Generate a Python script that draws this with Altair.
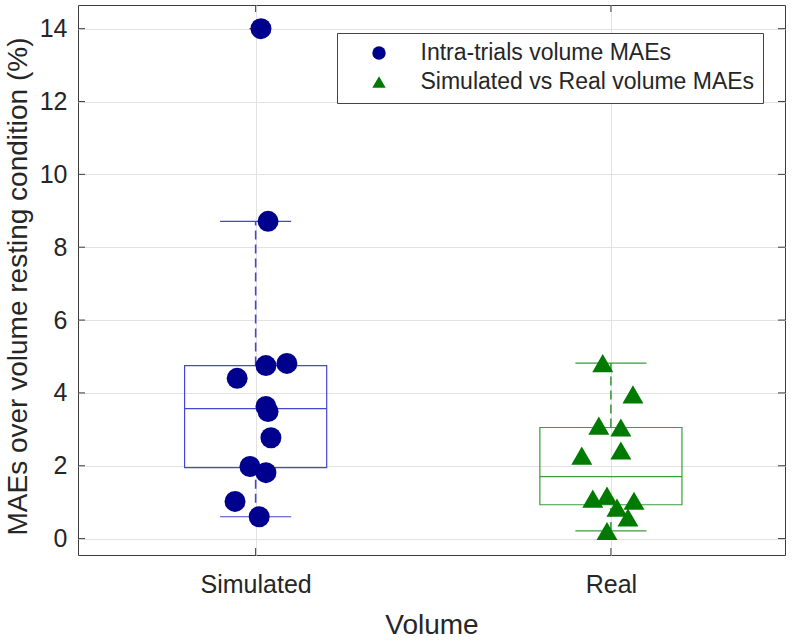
import altair as alt
import pandas as pd

categories = ["Simulated", "Real"]
legend_labels = ["Intra-trials volume MAEs", "Simulated vs Real volume MAEs"]

# Simulated group: x position of each point (spread around 1) and its MAE (%)
sim_x = [1.015, 1.035, 1.029, 1.088, 0.948, 1.029, 1.035, 1.043, 0.984, 1.029, 0.942, 1.010]
sim_mae = [14.0, 8.71, 4.75, 4.81, 4.40, 3.63, 3.49, 2.77, 1.98, 1.81, 1.02, 0.60]

# Real group: x position of each point (spread around 2) and its MAE (%)
real_x = [1.977, 2.062, 1.966, 2.028, 1.918, 2.028, 1.949, 1.989, 2.065, 2.017, 2.048, 1.989]
real_mae = [4.82, 3.96, 3.10, 3.05, 2.28, 2.42, 1.10, 1.18, 1.04, 0.85, 0.58, 0.21]

# Box-plot summary per category
box_pos = [1, 2]
box_lo = [0.60, 0.21]
box_q1 = [1.95, 0.93]
box_med = [3.57, 1.70]
box_q3 = [4.75, 3.05]
box_hi = [8.71, 4.82]

# Outliers flagged by the box plot
outlier_pos = [1]
outlier_val = [14.0]

y_ticks = [0, 2, 4, 6, 8, 10, 12, 14]
x_ticks = [1, 2]

FONT = "Liberation Sans"
TXT = "#262626"
FRAME = "#3c3c3c"
BOX_HALF = 0.2
CAP_HALF = 0.1

points = pd.DataFrame({
    "series": [legend_labels[0]] * len(sim_x) + [legend_labels[1]] * len(real_x),
    "x": sim_x + real_x,
    "mae": sim_mae + real_mae,
})
boxes = pd.DataFrame({
    "cat": categories,
    "pos": box_pos,
    "lo": box_lo,
    "q1": box_q1,
    "med": box_med,
    "q3": box_q3,
    "hi": box_hi,
})
outliers = pd.DataFrame({"pos": outlier_pos, "v": outlier_val})
yt = pd.DataFrame({"v": y_ticks})
xt = pd.DataFrame({"v": x_ticks})

label_expr = " : ".join(
    f"datum.value == {p} ? '{c}'" for p, c in zip(box_pos, categories)
) + " : ''"

xs = alt.Scale(domain=[0.5, 2.49], nice=False, zero=False)
ys = alt.Scale(domain=[-0.45, 14.65], nice=False, zero=False)
x_axis = alt.Axis(values=x_ticks, labelExpr=label_expr, title="Volume",
                  labelPadding=17, titlePadding=14, grid=True)
y_axis = alt.Axis(values=y_ticks, title="MAEs over volume resting condition (%)",
                  labelPadding=11, titlePadding=7, titleY=281, grid=True)

box_stroke = alt.Stroke("cat:N", scale=alt.Scale(domain=categories,
                        range=["#4646d2", "#3a9e3a"]), legend=None)

base_box = alt.Chart(boxes).transform_calculate(
    xl=f"datum.pos - {BOX_HALF}", xr=f"datum.pos + {BOX_HALF}",
    cl=f"datum.pos - {CAP_HALF}", cr=f"datum.pos + {CAP_HALF}",
)

box_rect = base_box.mark_rect(fill="transparent", strokeWidth=1.2).encode(
    x=alt.X("xl:Q", scale=xs, axis=x_axis), x2="xr:Q",
    y=alt.Y("q1:Q", scale=ys, axis=y_axis), y2="q3:Q",
    stroke=box_stroke,
)
median = base_box.mark_rule(strokeWidth=1.2).encode(
    x=alt.X("xl:Q", scale=xs, axis=x_axis), x2="xr:Q",
    y=alt.Y("med:Q", scale=ys, axis=y_axis), stroke=box_stroke,
)
whisk_up = base_box.mark_rule(strokeWidth=1.6, strokeDash=[9, 5]).encode(
    x=alt.X("pos:Q", scale=xs, axis=x_axis),
    y=alt.Y("q3:Q", scale=ys, axis=y_axis), y2="hi:Q", stroke=box_stroke,
)
whisk_dn = base_box.mark_rule(strokeWidth=1.6, strokeDash=[9, 5]).encode(
    x=alt.X("pos:Q", scale=xs, axis=x_axis),
    y=alt.Y("lo:Q", scale=ys, axis=y_axis), y2="q1:Q", stroke=box_stroke,
)
cap_up = base_box.mark_rule(strokeWidth=1.2).encode(
    x=alt.X("cl:Q", scale=xs, axis=x_axis), x2="cr:Q",
    y=alt.Y("hi:Q", scale=ys, axis=y_axis), stroke=box_stroke,
)
cap_dn = base_box.mark_rule(strokeWidth=1.2).encode(
    x=alt.X("cl:Q", scale=xs, axis=x_axis), x2="cr:Q",
    y=alt.Y("lo:Q", scale=ys, axis=y_axis), stroke=box_stroke,
)

outlier_marks = alt.Chart(outliers).mark_point(
    shape="M-1,0L1,0M0,-1L0,1", size=150, filled=False, stroke="#e00000",
    strokeWidth=1.2, opacity=1,
).encode(
    x=alt.X("pos:Q", scale=xs, axis=x_axis),
    y=alt.Y("v:Q", scale=ys, axis=y_axis),
)

legend = alt.Legend(orient="none", legendX=259, legendY=28, labelLimit=0,
                    symbolSize=180)
pts = alt.Chart(points).mark_point(filled=True, opacity=1, size=440).encode(
    x=alt.X("x:Q", scale=xs, axis=x_axis),
    y=alt.Y("mae:Q", scale=ys, axis=y_axis),
    color=alt.Color("series:N", scale=alt.Scale(domain=legend_labels,
                    range=["#00008f", "#007a00"]), title=None, legend=legend),
    shape=alt.Shape("series:N", scale=alt.Scale(domain=legend_labels,
                    range=["circle", "triangle-up"]), title=None, legend=legend),
)

# inward tick marks on all four sides of the frame
tick_l = alt.Chart(yt).mark_rule(color=FRAME, strokeWidth=1).encode(
    y=alt.Y("v:Q", scale=ys, axis=y_axis), x=alt.value(0), x2=alt.value(7))
tick_r = alt.Chart(yt).mark_rule(color=FRAME, strokeWidth=1).encode(
    y=alt.Y("v:Q", scale=ys, axis=y_axis), x=alt.value(700), x2=alt.value(707))
tick_b = alt.Chart(xt).mark_rule(color=FRAME, strokeWidth=1).encode(
    x=alt.X("v:Q", scale=xs, axis=x_axis), y=alt.value(550), y2=alt.value(543))
tick_t = alt.Chart(xt).mark_rule(color=FRAME, strokeWidth=1).encode(
    x=alt.X("v:Q", scale=xs, axis=x_axis), y=alt.value(0), y2=alt.value(7))

chart = alt.layer(
    box_rect, median, whisk_up, whisk_dn, cap_up, cap_dn,
    outlier_marks, pts, tick_l, tick_r, tick_b, tick_t,
).properties(
    width=707, height=550,
    autosize=alt.AutoSizeParams(type="none"),
    padding={"left": 78, "top": 5, "right": 7, "bottom": 87},
    background="white",
).configure_axis(
    labelFont=FONT, titleFont=FONT, labelFontSize=25, titleFontSize=28,
    labelColor=TXT, titleColor=TXT, titleFontWeight="normal",
    gridColor="#e2e2e2", gridWidth=1, domain=False, ticks=False,
).configure_legend(
    labelFont=FONT, labelFontSize=23, labelColor=TXT,
    fillColor="white", strokeColor="#444444", strokeWidth=1,
    padding=8.5, rowPadding=5, symbolSize=180, symbolOffset=22,
    labelOffset=30, symbolStrokeWidth=0, cornerRadius=0,
).configure_view(stroke=FRAME, strokeWidth=1)

chart.save("out.html", embed_options={"renderer": "svg", "actions": False})
